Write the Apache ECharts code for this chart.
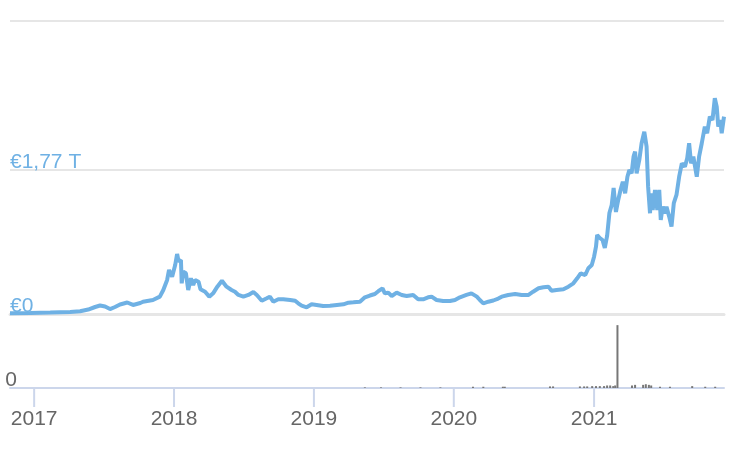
<!DOCTYPE html>
<html><head><meta charset="utf-8">
<script src="https://cdn.jsdelivr.net/npm/echarts@6/dist/echarts.min.js"></script>
<style>html,body{margin:0;padding:0;background:#fff}#c{width:738px;height:456px}</style>
</head><body><div id="c"></div>
<script>
// Market cap (billions of EUR)
const capDates = ["2016-10-30","2016-12-22","2017-02-12","2017-04-05","2017-05-01","2017-05-22","2017-06-09","2017-06-22","2017-07-05","2017-07-18","2017-07-31","2017-08-13","2017-09-01","2017-09-16","2017-10-05","2017-10-12","2017-11-07","2017-11-25","2017-12-04","2017-12-14","2017-12-19","2017-12-27","2018-01-04","2018-01-09","2018-01-13","2018-01-19","2018-01-21","2018-01-25","2018-02-01","2018-02-07","2018-02-14","2018-02-20","2018-02-25","2018-03-06","2018-03-11","2018-03-23","2018-04-03","2018-04-13","2018-04-24","2018-05-06","2018-05-18","2018-05-31","2018-06-09","2018-06-18","2018-07-01","2018-07-14","2018-07-27","2018-08-05","2018-08-18","2018-08-31","2018-09-08","2018-09-17","2018-09-30","2018-10-13","2018-10-31","2018-11-13","2018-11-21","2018-11-30","2018-12-13","2018-12-26","2019-01-08","2019-01-25","2019-02-12","2019-03-02","2019-03-19","2019-04-01","2019-04-14","2019-05-01","2019-05-14","2019-05-27","2019-06-09","2019-06-18","2019-06-29","2019-07-05","2019-07-14","2019-07-23","2019-08-05","2019-08-18","2019-08-31","2019-09-17","2019-09-30","2019-10-13","2019-10-26","2019-11-04","2019-11-17","2019-12-04","2019-12-22","2020-01-04","2020-01-17","2020-02-03","2020-02-16","2020-03-01","2020-03-09","2020-03-18","2020-03-31","2020-04-13","2020-04-26","2020-05-05","2020-05-22","2020-06-09","2020-06-26","2020-07-14","2020-07-26","2020-08-09","2020-08-22","2020-09-04","2020-09-12","2020-09-25","2020-10-13","2020-10-26","2020-11-08","2020-11-18","2020-11-27","2020-12-09","2020-12-17","2020-12-26","2021-01-01","2021-01-06","2021-01-09","2021-01-16","2021-01-23","2021-01-29","2021-02-04","2021-02-10","2021-02-16","2021-02-21","2021-02-27","2021-03-05","2021-03-11","2021-03-17","2021-03-23","2021-03-29","2021-04-03","2021-04-09","2021-04-14","2021-04-18","2021-04-22","2021-04-29","2021-05-05","2021-05-12","2021-05-18","2021-05-22","2021-05-27","2021-05-29","2021-06-03","2021-06-09","2021-06-15","2021-06-20","2021-06-24","2021-06-29","2021-07-05","2021-07-09","2021-07-16","2021-07-22","2021-07-28","2021-08-04","2021-08-11","2021-08-18","2021-08-26","2021-09-01","2021-09-06","2021-09-11","2021-09-17","2021-09-26","2021-10-02","2021-10-09","2021-10-17","2021-10-23","2021-10-30","2021-11-06","2021-11-12","2021-11-17","2021-11-21","2021-11-26","2021-11-30","2021-12-06"];
const capValues = [9,12,17,24,33,55,86,104,92,61,86,117,141,111,135,150,172,213,295,418,541,458,602,737,643,664,377,520,500,295,439,356,418,397,304,274,213,254,336,409,336,295,274,234,213,234,270,234,163,193,213,151,181,181,172,163,131,102,82,119,111,98,102,111,119,139,144,151,205,227,246,280,316,254,262,221,262,234,221,234,181,181,205,213,172,160,160,172,205,234,254,213,172,131,151,166,190,213,234,246,234,234,274,316,328,336,286,295,304,336,377,439,500,479,562,602,704,827,971,934,909,811,959,1241,1340,1549,1254,1401,1524,1626,1483,1687,1770,1729,1933,1995,1729,1893,2098,2240,2056,1565,1238,1483,1278,1524,1278,1524,1155,1319,1238,1319,1196,1073,1361,1463,1687,1852,1810,1914,2098,1852,1933,1687,1933,2098,2302,2221,2425,2384,2651,2548,2302,2384,2221,2425];
// Volume (relative units)
const volDates = ["2019-05-14","2019-06-25","2019-08-15","2019-10-06","2019-11-27","2020-02-20","2020-03-18","2020-05-08","2020-05-13","2020-09-08","2020-09-16","2020-11-25","2020-12-06","2020-12-14","2020-12-27","2021-01-06","2021-01-16","2021-01-27","2021-02-04","2021-02-12","2021-02-20","2021-02-25","2021-03-03","2021-04-10","2021-04-18","2021-05-09","2021-05-16","2021-05-24","2021-05-30","2021-06-22","2021-07-18","2021-09-14","2021-10-18","2021-11-13"];
const volValues = [1,1,1,1,1,2,2,2,2,2.5,2.5,2.5,2.5,2.5,3,3,3,3,4,4,3,4,100,4,5,5,6,5,4,2,2,3,2,2];
const yearTicks = ["2017-01-01","2018-01-01","2019-01-01","2020-01-01","2021-01-01"];
const yTickLabels = {0: "€0", 1.77: "€1,77 T"};

const ts = s => { const p = s.split('-'); return Date.UTC(+p[0], +p[1] - 1, +p[2]); };
const capData = capDates.map((d, i) => [ts(d), capValues[i] * 1e9]);
const volData = volDates.map((d, i) => [ts(d), volValues[i]]);
const yearTs = yearTicks.map(ts);
const blue = '#6fb1e4';
const font = 'Liberation Sans, Arial, sans-serif';
const xMin = ts('2016-10-30'), xMax = ts('2021-12-06');

const chart = echarts.init(document.getElementById('c'));
chart.setOption({
  animation: false,
  backgroundColor: '#fff',
  grid: [
    {left: 10, right: 14, top: 21, height: 293},
    {left: 10, right: 14, top: 322, height: 66}
  ],
  xAxis: [
    {type: 'value', gridIndex: 0, min: xMin, max: xMax, scale: true,
     axisLine: {show: true, onZero: false, lineStyle: {color: '#e6e6e6', width: 3}},
     axisTick: {show: false}, axisLabel: {show: false}, splitLine: {show: false}},
    {type: 'value', gridIndex: 1, min: xMin, max: xMax, scale: true,
     axisLine: {show: true, onZero: false, lineStyle: {color: '#ccd6eb', width: 2}},
     axisTick: {show: false},
     axisLabel: {customValues: yearTs, margin: 1,
                 formatter: v => '{t|}\n{y|' + new Date(v).getUTCFullYear() + '}',
                 rich: {
                   t: {width: 2, height: 18, lineHeight: 18, backgroundColor: '#ccd6eb'},
                   y: {color: '#666', fontSize: 21, fontFamily: font, lineHeight: 24}
                 }},
     splitLine: {show: false}}
  ],
  yAxis: [
    {type: 'value', gridIndex: 0, min: 0, max: 3.6e12, interval: 1.77e12,
     axisLine: {show: false}, axisTick: {show: false},
     splitLine: {show: true, lineStyle: {color: ['#e6e6e6', '#e6e6e6', 'rgba(0,0,0,0)', '#e6e6e6'], width: 2}},
     axisLabel: {inside: true, margin: 0,
                 formatter: v => { const k = Math.round(v / 1e10) / 100; return yTickLabels[k] ? '{a|' + yTickLabels[k] + '}' : ''; },
                 rich: {a: {color: blue, fontSize: 21, fontFamily: font, lineHeight: 21, padding: [0, 0, 15, 0]}}}},
    {type: 'value', gridIndex: 1, min: 0, max: 105, interval: 105,
     axisLine: {show: false}, axisTick: {show: false}, splitLine: {show: false},
     axisLabel: {inside: false, margin: -7,
                 formatter: v => v === 0 ? '{z|0}' : '',
                 rich: {z: {color: '#666', fontSize: 21, fontFamily: font, lineHeight: 21, padding: [0, 0, 15, 0]}}}}
  ],
  series: [
    {type: 'line', xAxisIndex: 0, yAxisIndex: 0, data: capData, showSymbol: false,
     lineStyle: {color: blue, width: 4}, z: 5},
    {type: 'bar', xAxisIndex: 1, yAxisIndex: 1, data: volData, barWidth: 2,
     itemStyle: {color: '#777'}}
  ]
});
</script></body></html>
